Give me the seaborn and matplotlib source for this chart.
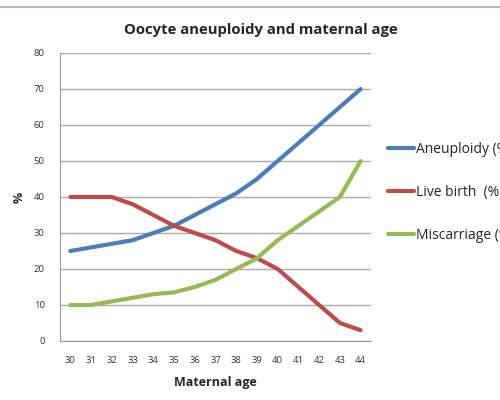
import matplotlib
matplotlib.use("Agg")
import matplotlib.pyplot as plt
import seaborn as sns
import pandas as pd

# Values
ages = [30, 31, 32, 33, 34, 35, 36, 37, 38, 39, 40, 41, 42, 43, 44]
aneuploidy = [25, 26, 27, 28, 30, 32, 35, 38, 41, 45, 50, 55, 60, 65, 70]
live_birth = [40, 40, 40, 38, 35, 32, 30, 28, 25, 23, 20, 15, 10, 5, 3]
miscarriage = [10, 10, 11, 12, 13, 13.5, 15, 17, 20, 23, 28, 32, 36, 40, 50]

series_names = ["Aneuploidy (%)", "Live birth  (%)", "Miscarriage (%)"]
colors = ["#4A7EBB", "#BE4B48", "#98B954"]

df = pd.DataFrame({
    "age": ages * 3,
    "value": aneuploidy + live_birth + miscarriage,
    "series": [series_names[0]] * len(ages) + [series_names[1]] * len(ages) + [series_names[2]] * len(ages),
})

sns.set_style("white")
plt.rcParams["font.family"] = ["Open Sans", "DejaVu Sans"]

fig = plt.figure(figsize=(5, 4), dpi=100)
ax = fig.add_axes([0.12, 0.1475, 0.622, 0.72])

sns.lineplot(data=df, x="age", y="value", hue="series", palette=colors,
             linewidth=3, ax=ax, legend=True)

ax.set_xlim(29.5, 44.5)
ax.set_ylim(0, 80)
ax.set_xticks(ages)
ax.set_xticklabels([str(a) for a in ages], fontsize=6.8, color="#333333")
ax.set_yticks(range(0, 81, 10))
ax.set_yticklabels([str(v) for v in range(0, 81, 10)], fontsize=6.8, color="#333333")
ax.tick_params(axis="x", length=0, pad=11)
ax.tick_params(axis="y", length=3, pad=8, color="#999999", direction="out")
ax.yaxis.grid(True, color="#AAAAAA", linewidth=1)
ax.set_axisbelow(True)
for side in ["top", "right"]:
    ax.spines[side].set_visible(False)
ax.spines["left"].set_color("#999999")
ax.spines["bottom"].set_color("#999999")

ax.set_xlabel("Maternal age", fontsize=9, fontweight="bold", labelpad=8)
ax.set_ylabel("%", fontsize=9, fontweight="bold", labelpad=6)
ax.set_title("Oocyte aneuploidy and maternal age", fontsize=10.7, fontweight="bold", pad=14, x=0.646)

ax.legend(loc="upper left", bbox_to_anchor=(1.055, 0.69), frameon=False,
          fontsize=10, labelspacing=2.0, handlelength=1.9, handletextpad=0.1,
          borderaxespad=0, borderpad=0)

# thin border line along the top of the image
fig.add_artist(plt.Line2D([0, 1], [0.982, 0.982], color="#BBBBBB", linewidth=1.5))

fig.savefig("out.png", dpi=100)
